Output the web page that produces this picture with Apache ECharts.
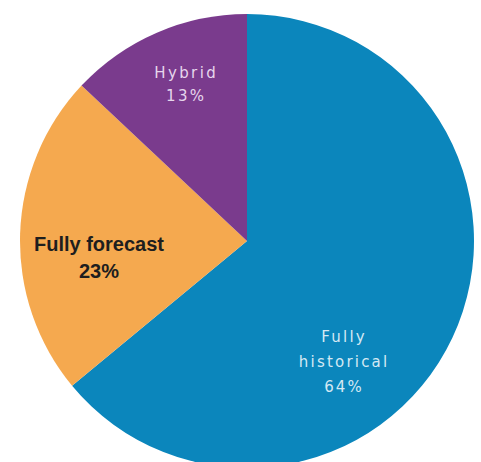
<!DOCTYPE html>
<html>
<head>
<meta charset="utf-8">
<script src="https://cdn.jsdelivr.net/npm/echarts@6/dist/echarts.min.js"></script>
<style>
html,body{margin:0;padding:0;background:#fff;}
#chart{width:481px;height:462px;}
</style>
</head>
<body>
<div id="chart"></div>
<script>
var categories = ['Fully historical', 'Fully forecast', 'Hybrid'];
var values = [64, 23, 13];
var labelNames = ['Fully\nhistorical', 'Fully forecast', 'Hybrid'];

var colors = ['#0b86bc', '#f5a94f', '#7a3b8d'];
var labelPos = [[343, 362], [99, 257], [185, 84]];
var labelSpacing = [2.2, 0, 2.4];
var labelStyles = [
  {color: '#d4e9f4', fontSize: 15, fontWeight: 'normal', lineHeight: 25, fontFamily: 'DejaVu Sans'},
  {color: '#1e1e1e', fontSize: 20, fontWeight: 'bold', lineHeight: 27, fontFamily: 'Liberation Sans'},
  {color: '#e6d6ec', fontSize: 15, fontWeight: 'normal', lineHeight: 23, fontFamily: 'DejaVu Sans'}
];

var data = categories.map(function (c, i) {
  return {
    name: c,
    value: values[i],
    itemStyle: {color: colors[i]},
    label: Object.assign({
      formatter: labelNames[i] + '\n' + values[i] + '%'
    }, labelStyles[i])
  };
});

var chart = echarts.init(document.getElementById('chart'), null, {renderer: 'svg'});
chart.setOption({
  backgroundColor: '#ffffff',
  animation: false,
  series: [{
    type: 'pie',
    center: [247, 241],
    radius: [0, 227],
    startAngle: 90,
    clockwise: true,
    data: data,
    label: {show: true, position: 'inside', align: 'center'},
    labelLine: {show: false},
    labelLayout: function (p) {
      var pos = labelPos[p.dataIndex];
      return {x: pos[0], y: pos[1], align: 'center', verticalAlign: 'middle'};
    },
    emphasis: {disabled: true}
  }]
});

function applySpacing() {
  var texts = document.querySelectorAll('#chart text');
  texts.forEach(function (t) {
    var s = t.textContent;
    var idx = -1;
    if (s === 'Fully' || s === 'historical' || s === '64%') idx = 0;
    else if (s === 'Hybrid' || s === '13%') idx = 2;
    if (idx >= 0 && labelSpacing[idx]) {
      t.style.letterSpacing = labelSpacing[idx] + 'px';
      t.setAttribute('dx', (labelSpacing[idx] / 2) + 'px');
    }
  });
}
applySpacing();
chart.on('finished', applySpacing);
</script>
</body>
</html>
